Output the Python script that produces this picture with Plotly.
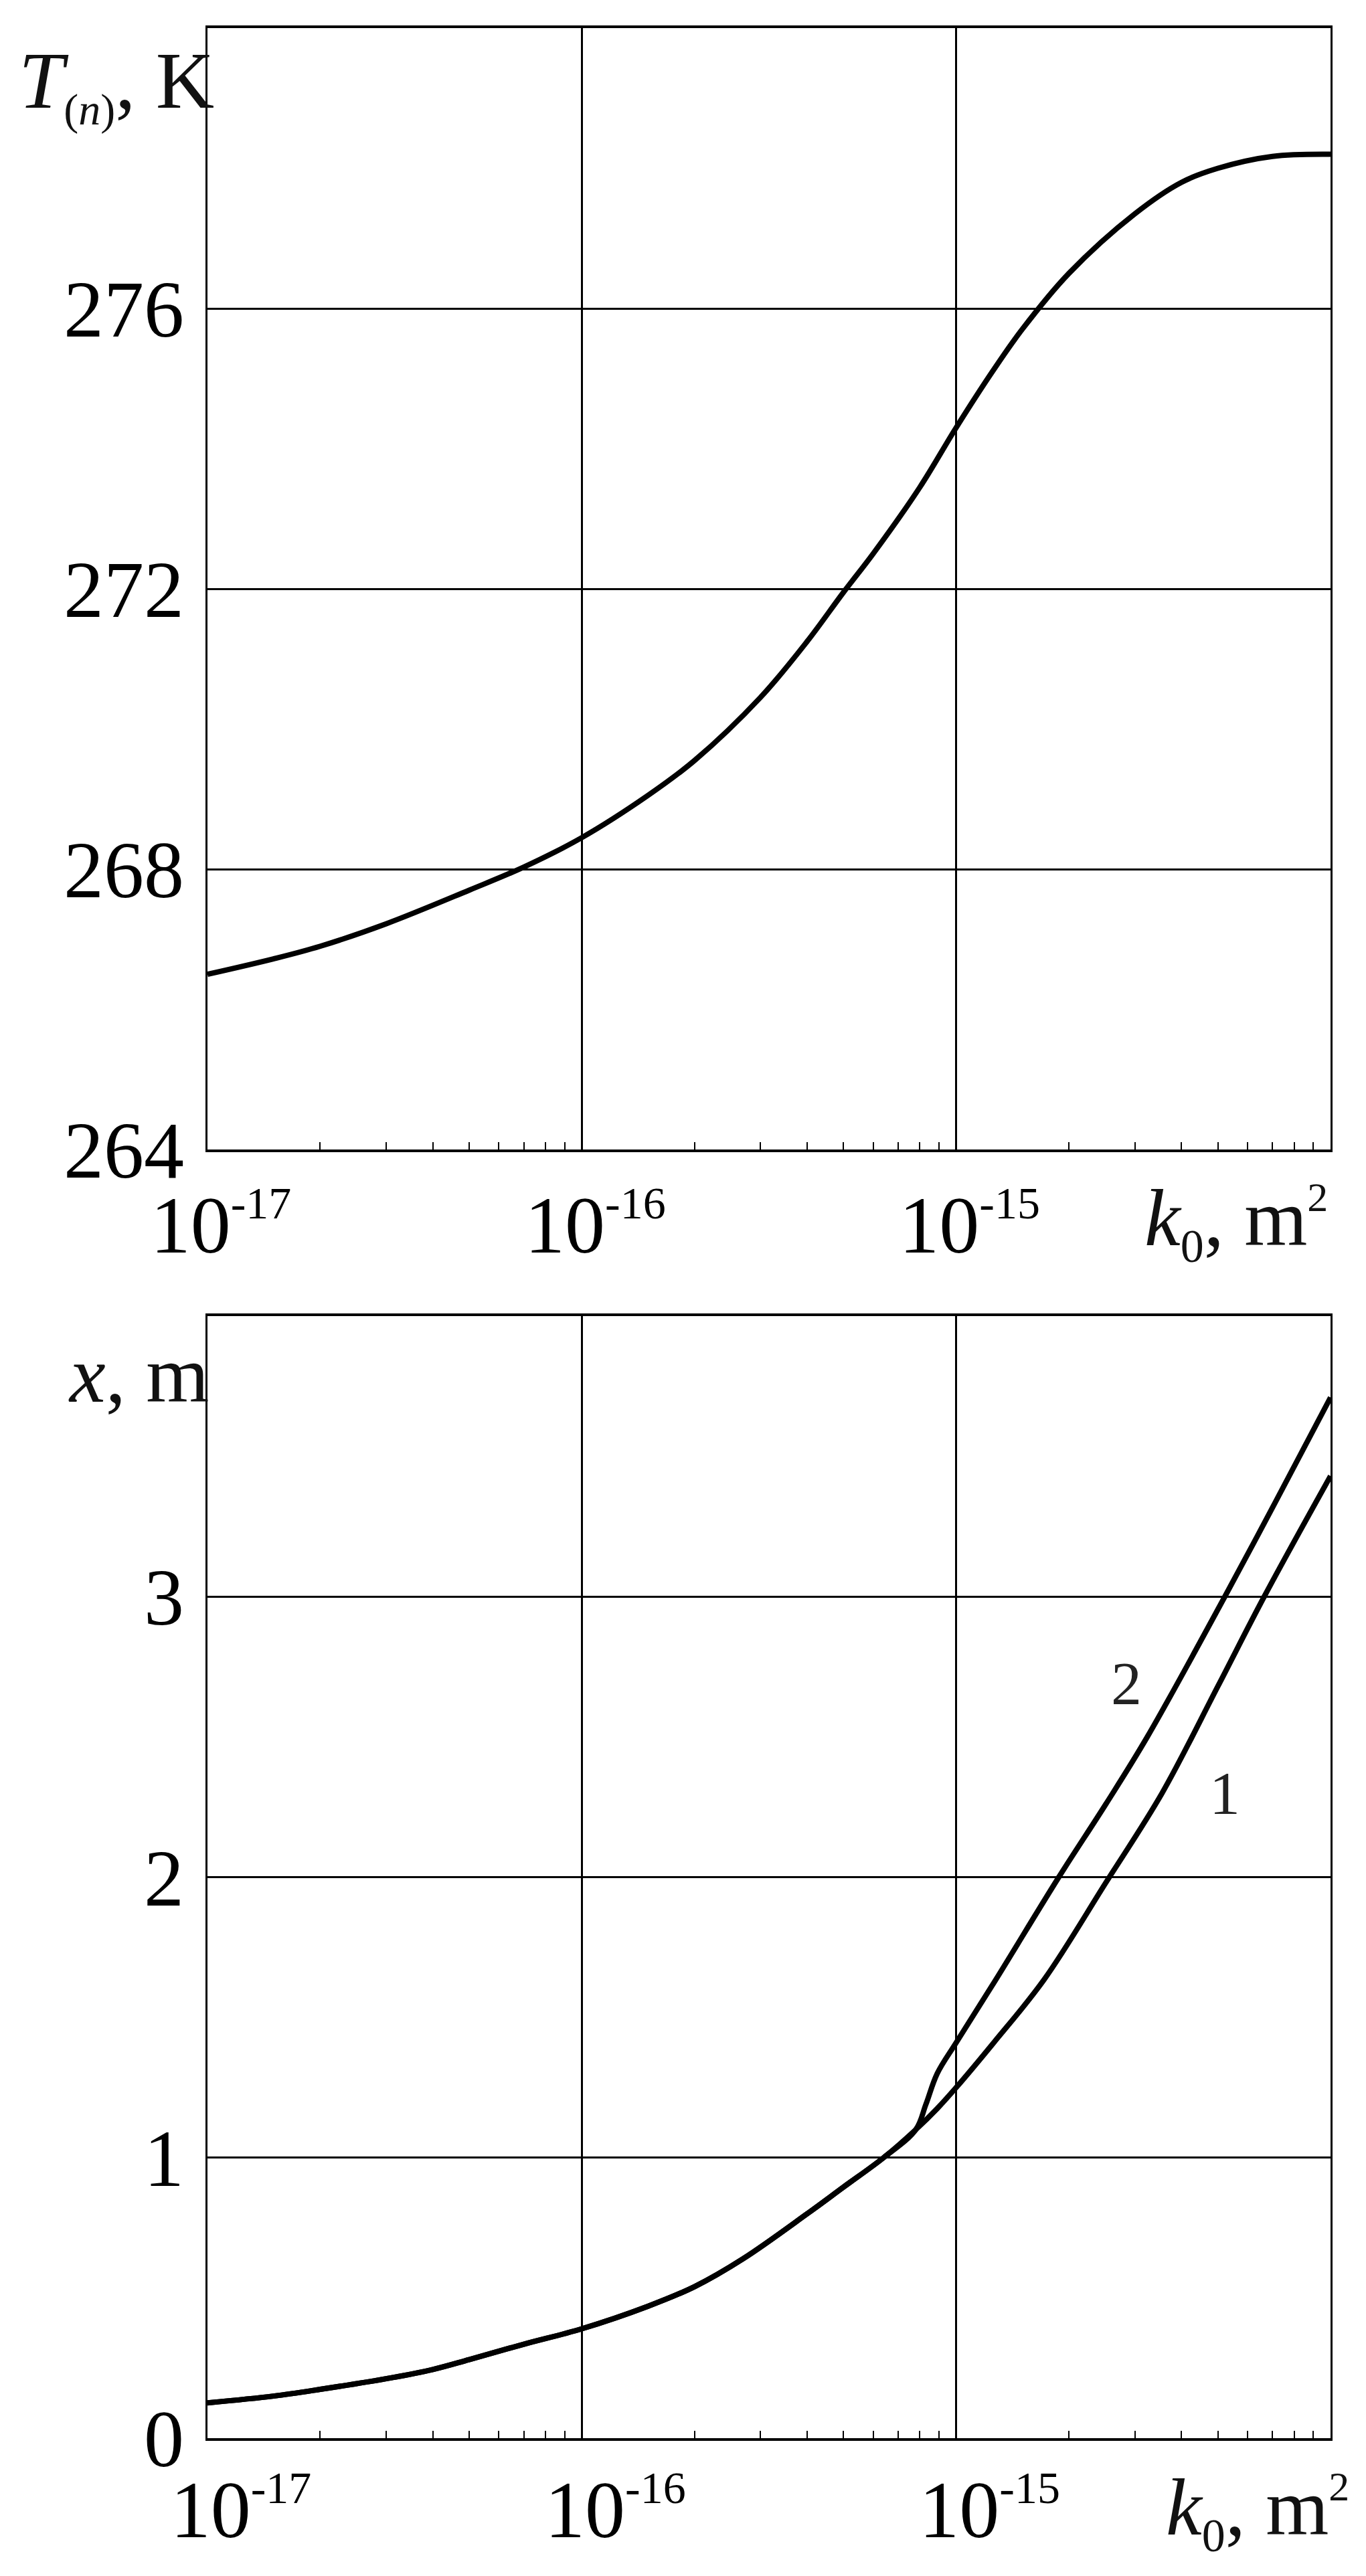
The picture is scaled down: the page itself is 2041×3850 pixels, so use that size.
import math
import plotly.graph_objects as go

# ---------------- data ----------------
# top panel: T_(n) [K] vs k0 [m^2]
k_top = [1.0e-17, 1.5e-17, 2.0e-17, 3.0e-17, 5.0e-17, 7.0e-17, 1.0e-16, 1.5e-16,
         2.0e-16, 3.0e-16, 4.0e-16, 5.0e-16, 6.0e-16, 8.0e-16, 1.0e-15, 1.25e-15,
         1.5e-15, 2.0e-15, 3.0e-15, 4.0e-15, 5.0e-15, 7.0e-15, 1.0e-14]
T_top = [266.50, 266.72, 266.90, 267.22, 267.70, 268.03, 268.45, 269.05,
         269.55, 270.45, 271.25, 271.95, 272.50, 273.45, 274.30, 275.10,
         275.70, 276.50, 277.35, 277.80, 278.00, 278.17, 278.20]

# bottom panel: x [m] vs k0 [m^2]; common part, then branches 1 and 2
k_common = [1.0e-17, 1.5e-17, 2.0e-17, 3.0e-17, 4.0e-17, 5.0e-17, 7.0e-17, 1.0e-16,
            1.5e-16, 2.0e-16, 2.7e-16, 4.0e-16, 5.0e-16, 6.4e-16, 7.8e-16]
x_common = [0.126, 0.150, 0.174, 0.212, 0.245, 0.280, 0.335, 0.39,
            0.47, 0.54, 0.64, 0.80, 0.895, 1.00, 1.10]
k_curve1 = [8.9e-16, 1.0e-15, 1.26e-15, 1.72e-15, 2.51e-15, 3.55e-15, 5.0e-15,
            6.65e-15, 1.0e-14]
x_curve1 = [1.175, 1.25, 1.41, 1.636, 1.98, 2.30, 2.68, 3.00, 3.43]
k_curve2 = [8.3e-16, 8.9e-16, 1.0e-15, 1.27e-15, 1.88e-15, 2.51e-15, 3.24e-15,
            5.22e-15, 7.08e-15, 1.0e-14]
x_curve2 = [1.19, 1.30, 1.41, 1.63, 2.00, 2.26, 2.50, 3.00, 3.33, 3.71]

x_tickvals = [1e-17, 1e-16, 1e-15]
x_ticktext = ["10<sup><span style='font-size:68px'>-17</span></sup>",
              "10<sup><span style='font-size:68px'>-16</span></sup>",
              "10<sup><span style='font-size:68px'>-15</span></sup>"]
T_tickvals = [264, 268, 272, 276]
x_m_tickvals = [0, 1, 2, 3]
curve_labels = ["1", "2"]
curve_label_k = [5.22e-15, 2.85e-15]
curve_label_x = [2.30, 2.69]

# ---------------- figure ----------------
W, H = 2041, 3850
ML, MR, MT, MB = 302, 61, 34, 214
PW, PH = W - ML - MR, H - MT - MB
FONT = "Liberation Serif"


def py(Y):  # pixel row -> paper y
    return (H - MB - Y) / PH


def px(X):  # pixel column -> paper x
    return (X - ML) / PW


fig = go.Figure()
line_style = dict(color="black", width=8, shape="spline", smoothing=1.0)
fig.add_trace(go.Scatter(x=k_top, y=T_top, mode="lines", line=line_style,
                         xaxis="x", yaxis="y", showlegend=False, hoverinfo="skip"))
fig.add_trace(go.Scatter(x=k_common + k_curve1, y=x_common + x_curve1, mode="lines",
                         line=line_style, xaxis="x2", yaxis="y2", showlegend=False,
                         hoverinfo="skip"))
fig.add_trace(go.Scatter(x=k_common + k_curve2, y=x_common + x_curve2, mode="lines",
                         line=line_style, xaxis="x2", yaxis="y2", showlegend=False,
                         hoverinfo="skip"))

minor_vals = [m * 10.0 ** e for e in (-17, -16, -15) for m in range(2, 10)]


def xaxis_cfg(shift, standoff, anchor):
    return dict(type="log", range=[-17, -14], domain=[0, 1], anchor=anchor,
                showline=True, linewidth=3.5, linecolor="black", mirror=True,
                showgrid=True, gridcolor="black", gridwidth=2.5, zeroline=False,
                tickmode="array", tickvals=x_tickvals, ticktext=x_ticktext, ticks="",
                ticklabelshift=shift, ticklabelstandoff=standoff,
                tickfont=dict(family=FONT, size=120, color="black"),
                minor=dict(tickmode="array", tickvals=minor_vals, ticks="inside",
                           ticklen=11, tickwidth=2, tickcolor="black", showgrid=False))


def yaxis_cfg(rng, vals, dom, anchor):
    return dict(range=rng, domain=dom, anchor=anchor, showline=True, linewidth=3,
                linecolor="black", mirror=True, showgrid=True, gridcolor="black",
                gridwidth=2.5, zeroline=False, tickmode="array", tickvals=vals,
                ticks="", ticklabelstandoff=8,
                tickfont=dict(family=FONT, size=120, color="black"))


fig.update_layout(
    width=W, height=H,
    margin=dict(l=ML, r=MR, t=MT, b=MB, autoexpand=False),
    plot_bgcolor="white", paper_bgcolor="white",
    xaxis=xaxis_cfg(20, 6, "y"),
    yaxis=yaxis_cfg([264, 280], T_tickvals, [py(1710), 1], "x"),
    xaxis2=xaxis_cfg(50, 0, "y2"),
    yaxis2=yaxis_cfg([0, 4], x_m_tickvals, [0, py(1959)], "x2"),
)

ann = []
title_font = dict(family=FONT, size=121, color="#111")
ann.append(dict(text="<i>T</i><sub><span style='font-size:66px'>(<i>n</i>)</span></sub>, K",
                xref="paper", yref="paper", x=px(314), y=py(195), xanchor="right",
                yanchor="bottom", showarrow=False, font=title_font))
ann.append(dict(text="<i>x</i>, m", xref="paper", yref="paper", x=px(306), y=py(2115),
                xanchor="right", yanchor="bottom", showarrow=False, font=title_font))
ann.append(dict(text="<i>k</i><sub><span style='font-size:70px'>0</span></sub>, m<sup><span style='font-size:62px'>2</span></sup>",
                xref="paper", yref="paper", x=px(1700), y=py(1895), xanchor="left",
                yanchor="bottom", showarrow=False, font=title_font))
ann.append(dict(text="<i>k</i><sub><span style='font-size:70px'>0</span></sub>, m<sup><span style='font-size:62px'>2</span></sup>",
                xref="paper", yref="paper", x=px(1732), y=py(3822), xanchor="left",
                yanchor="bottom", showarrow=False, font=title_font))
for t, kx, xv in zip(curve_labels, curve_label_k, curve_label_x):
    ann.append(dict(text=t, x=math.log10(kx), y=xv, xref="x2", yref="y2",
                    showarrow=False, xanchor="center", yanchor="middle",
                    font=dict(family=FONT, size=92, color="#222")))
fig.update_layout(annotations=ann)

fig.write_html("out.html")
